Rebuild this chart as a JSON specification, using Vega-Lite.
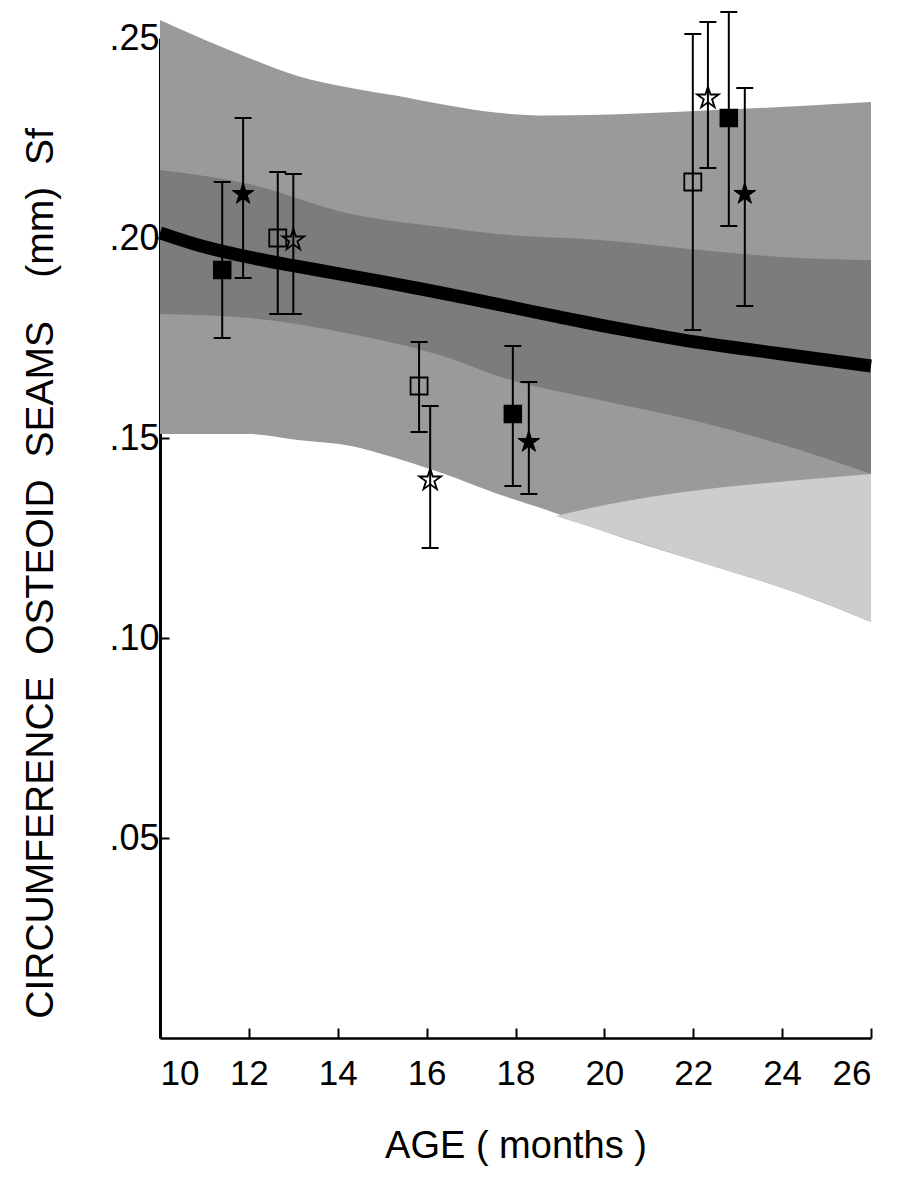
{
  "$schema": "https://vega.github.io/schema/vega-lite/v6.json",
  "width": 711,
  "height": 1000,
  "autosize": "none",
  "padding": {"left": 160, "top": 38, "right": 26, "bottom": 140},
  "background": "white",
  "config": {
    "view": {"stroke": null},
    "font": "Liberation Sans",
    "axisX": {
      "grid": false,
      "tickSize": -10, "tickWidth": 2, "tickColor": "black",
      "domainColor": "black", "domainWidth": 2.5,
      "labelFontSize": 35, "labelColor": "black", "labelPadding": 28, "labelFont": "Liberation Sans",
      "titleFontSize": 38, "titleFontWeight": "normal", "titleColor": "black", "titlePadding": 36, "titleFont": "Liberation Sans"
    },
    "axisY": {
      "grid": false,
      "tickSize": -9, "tickWidth": 2, "tickColor": "black",
      "domainColor": "black", "domainWidth": 3,
      "labelFontSize": 36, "labelColor": "black", "labelPadding": 10, "labelFont": "Liberation Sans",
      "titleFontSize": 39, "titleFontWeight": "normal", "titleColor": "black", "titleFont": "Liberation Sans",
      "titleX": -120, "titleY": 535, "titleBaseline": "middle", "titleAlign": "center", "titleAngle": -90
    }
  },
  "datasets": {
    "outer": [
      {"age": 10, "lo": 0.151, "hi": 0.2545},
      {"age": 12, "lo": 0.151, "hi": 0.245},
      {"age": 13.1, "lo": 0.1495, "hi": 0.2405},
      {"age": 14.3, "lo": 0.148, "hi": 0.2375},
      {"age": 15.3, "lo": 0.145, "hi": 0.2356},
      {"age": 16.4, "lo": 0.141, "hi": 0.2333},
      {"age": 17.6, "lo": 0.136, "hi": 0.2313},
      {"age": 18.7, "lo": 0.132, "hi": 0.2306},
      {"age": 19.9, "lo": 0.127, "hi": 0.2308},
      {"age": 22.15, "lo": 0.119, "hi": 0.2318},
      {"age": 24.4, "lo": 0.111, "hi": 0.233},
      {"age": 26, "lo": 0.104, "hi": 0.234}
    ],
    "sparse": [
      {"age": 18.9, "lo": 0.1305, "hi": 0.1305},
      {"age": 19.9, "lo": 0.127, "hi": 0.133},
      {"age": 22.15, "lo": 0.119, "hi": 0.137},
      {"age": 24.4, "lo": 0.111, "hi": 0.1395},
      {"age": 26, "lo": 0.104, "hi": 0.141}
    ],
    "inner": [
      {"age": 10, "lo": 0.181, "hi": 0.217},
      {"age": 12, "lo": 0.18, "hi": 0.2135},
      {"age": 14.3, "lo": 0.176, "hi": 0.206},
      {"age": 16.5, "lo": 0.17, "hi": 0.2025},
      {"age": 17.6, "lo": 0.1655, "hi": 0.201},
      {"age": 19.9, "lo": 0.1595, "hi": 0.1995},
      {"age": 22.15, "lo": 0.154, "hi": 0.197},
      {"age": 24.4, "lo": 0.147, "hi": 0.195},
      {"age": 26, "lo": 0.141, "hi": 0.1945}
    ],
    "curve": [
      {"age": 10, "v": 0.2013},
      {"age": 11, "v": 0.1978},
      {"age": 12, "v": 0.1952},
      {"age": 13, "v": 0.1931},
      {"age": 14, "v": 0.1911},
      {"age": 15, "v": 0.1891},
      {"age": 16, "v": 0.187},
      {"age": 17, "v": 0.1848},
      {"age": 18, "v": 0.1825},
      {"age": 19, "v": 0.1802},
      {"age": 20, "v": 0.178},
      {"age": 21, "v": 0.176},
      {"age": 22, "v": 0.1741},
      {"age": 23, "v": 0.1725},
      {"age": 24, "v": 0.171},
      {"age": 25, "v": 0.1695},
      {"age": 26, "v": 0.168}
    ],
    "points": [
      {"age": 11.4, "v": 0.192, "lo": 0.175, "hi": 0.214, "kind": "filled square"},
      {"age": 11.87, "v": 0.211, "lo": 0.19, "hi": 0.23, "kind": "filled star"},
      {"age": 12.65, "v": 0.2, "lo": 0.181, "hi": 0.2165, "kind": "open square"},
      {"age": 13.0, "v": 0.1995, "lo": 0.181, "hi": 0.216, "kind": "open star"},
      {"age": 15.83, "v": 0.163, "lo": 0.1515, "hi": 0.174, "kind": "open square"},
      {"age": 16.08, "v": 0.1395, "lo": 0.1225, "hi": 0.158, "kind": "open star"},
      {"age": 17.94, "v": 0.156, "lo": 0.138, "hi": 0.173, "kind": "filled square"},
      {"age": 18.3, "v": 0.149, "lo": 0.136, "hi": 0.164, "kind": "filled star"},
      {"age": 21.99, "v": 0.214, "lo": 0.177, "hi": 0.251, "kind": "open square"},
      {"age": 22.33, "v": 0.235, "lo": 0.2175, "hi": 0.254, "kind": "open star"},
      {"age": 22.8, "v": 0.23, "lo": 0.203, "hi": 0.2565, "kind": "filled square"},
      {"age": 23.16, "v": 0.211, "lo": 0.183, "hi": 0.2375, "kind": "filled star"}
    ]
  },
  "encoding": {
    "x": {
      "field": "age", "type": "quantitative", "title": "AGE ( months )",
      "scale": {"domain": [10, 26], "nice": false, "zero": false},
      "axis": {"values": [10, 12, 14, 16, 18, 20, 22, 24, 26]}
    }
  },
  "layer": [
    {
      "data": {"name": "outer"},
      "mark": {"type": "area", "interpolate": "monotone", "color": "#9a9a9a"},
      "encoding": {
        "y": {
          "field": "hi", "type": "quantitative",
          "title": "CIRCUMFERENCE\u00a0\u00a0OSTEOID\u00a0\u00a0SEAMS\u00a0\u00a0\u00a0\u00a0(mm)\u00a0\u00a0Sf",
          "scale": {"domain": [0, 0.25], "nice": false, "zero": false},
          "axis": {"values": [0.05, 0.1, 0.15, 0.2, 0.25], "labelExpr": "replace(format(datum.value, '.2f'), '0.', '.')"}
        },
        "y2": {"field": "lo"}
      }
    },
    {
      "data": {"name": "sparse"},
      "mark": {"type": "area", "interpolate": "monotone", "color": "#cdcdcd"},
      "encoding": {
        "y": {"field": "hi", "type": "quantitative", "title": "CIRCUMFERENCE\u00a0\u00a0OSTEOID\u00a0\u00a0SEAMS\u00a0\u00a0\u00a0\u00a0(mm)\u00a0\u00a0Sf"},
        "y2": {"field": "lo"}
      }
    },
    {
      "data": {"name": "inner"},
      "mark": {"type": "area", "interpolate": "monotone", "color": "#7c7c7c"},
      "encoding": {
        "y": {"field": "hi", "type": "quantitative", "title": "CIRCUMFERENCE\u00a0\u00a0OSTEOID\u00a0\u00a0SEAMS\u00a0\u00a0\u00a0\u00a0(mm)\u00a0\u00a0Sf"},
        "y2": {"field": "lo"}
      }
    },
    {
      "data": {"name": "curve"},
      "mark": {"type": "line", "interpolate": "monotone", "color": "black", "strokeWidth": 13},
      "encoding": {
        "y": {"field": "v", "type": "quantitative", "title": "CIRCUMFERENCE\u00a0\u00a0OSTEOID\u00a0\u00a0SEAMS\u00a0\u00a0\u00a0\u00a0(mm)\u00a0\u00a0Sf"}
      }
    },
    {
      "data": {"name": "points"},
      "mark": {"type": "rule", "color": "black", "strokeWidth": 2, "opacity": 1},
      "encoding": {
        "y": {"field": "lo", "type": "quantitative", "title": "CIRCUMFERENCE\u00a0\u00a0OSTEOID\u00a0\u00a0SEAMS\u00a0\u00a0\u00a0\u00a0(mm)\u00a0\u00a0Sf"},
        "y2": {"field": "hi"}
      }
    },
    {
      "data": {"name": "points"},
      "mark": {"type": "tick", "orient": "horizontal", "color": "black", "size": 17, "thickness": 2, "opacity": 1},
      "encoding": {
        "y": {"field": "lo", "type": "quantitative", "title": "CIRCUMFERENCE\u00a0\u00a0OSTEOID\u00a0\u00a0SEAMS\u00a0\u00a0\u00a0\u00a0(mm)\u00a0\u00a0Sf"}
      }
    },
    {
      "data": {"name": "points"},
      "mark": {"type": "tick", "orient": "horizontal", "color": "black", "size": 17, "thickness": 2, "opacity": 1},
      "encoding": {
        "y": {"field": "hi", "type": "quantitative", "title": "CIRCUMFERENCE\u00a0\u00a0OSTEOID\u00a0\u00a0SEAMS\u00a0\u00a0\u00a0\u00a0(mm)\u00a0\u00a0Sf"}
      }
    },
    {
      "data": {"name": "points"},
      "transform": [{"filter": "datum.kind == 'filled square'"}],
      "mark": {"type": "square", "size": 289, "fill": "black", "fillOpacity": 1, "stroke": "black", "strokeWidth": 1.5, "opacity": 1},
      "encoding": {
        "y": {"field": "v", "type": "quantitative", "title": "CIRCUMFERENCE\u00a0\u00a0OSTEOID\u00a0\u00a0SEAMS\u00a0\u00a0\u00a0\u00a0(mm)\u00a0\u00a0Sf"}
      }
    },
    {
      "data": {"name": "points"},
      "transform": [{"filter": "datum.kind == 'open square'"}],
      "mark": {"type": "square", "size": 289, "fill": "white", "fillOpacity": 0, "stroke": "black", "strokeWidth": 1.8, "strokeOpacity": 1, "opacity": 1},
      "encoding": {
        "y": {"field": "v", "type": "quantitative", "title": "CIRCUMFERENCE\u00a0\u00a0OSTEOID\u00a0\u00a0SEAMS\u00a0\u00a0\u00a0\u00a0(mm)\u00a0\u00a0Sf"}
      }
    },
    {
      "data": {"name": "points"},
      "transform": [{"filter": "datum.kind == 'filled star'"}],
      "mark": {"type": "point", "shape": "M0,-1L0.2245,-0.309L0.9511,-0.309L0.3633,0.118L0.5878,0.809L0,0.382L-0.5878,0.809L-0.3633,0.118L-0.9511,-0.309L-0.2245,-0.309Z", "size": 520, "filled": true, "fill": "black", "fillOpacity": 1, "stroke": "black", "strokeWidth": 1, "opacity": 1},
      "encoding": {
        "y": {"field": "v", "type": "quantitative", "title": "CIRCUMFERENCE\u00a0\u00a0OSTEOID\u00a0\u00a0SEAMS\u00a0\u00a0\u00a0\u00a0(mm)\u00a0\u00a0Sf"}
      }
    },
    {
      "data": {"name": "points"},
      "transform": [{"filter": "datum.kind == 'open star'"}],
      "mark": {"type": "point", "shape": "M0,-1L0.2245,-0.309L0.9511,-0.309L0.3633,0.118L0.5878,0.809L0,0.382L-0.5878,0.809L-0.3633,0.118L-0.9511,-0.309L-0.2245,-0.309Z", "size": 520, "filled": false, "stroke": "black", "strokeWidth": 1.8, "strokeOpacity": 1, "opacity": 1},
      "encoding": {
        "y": {"field": "v", "type": "quantitative", "title": "CIRCUMFERENCE\u00a0\u00a0OSTEOID\u00a0\u00a0SEAMS\u00a0\u00a0\u00a0\u00a0(mm)\u00a0\u00a0Sf"}
      }
    }
  ]
}
